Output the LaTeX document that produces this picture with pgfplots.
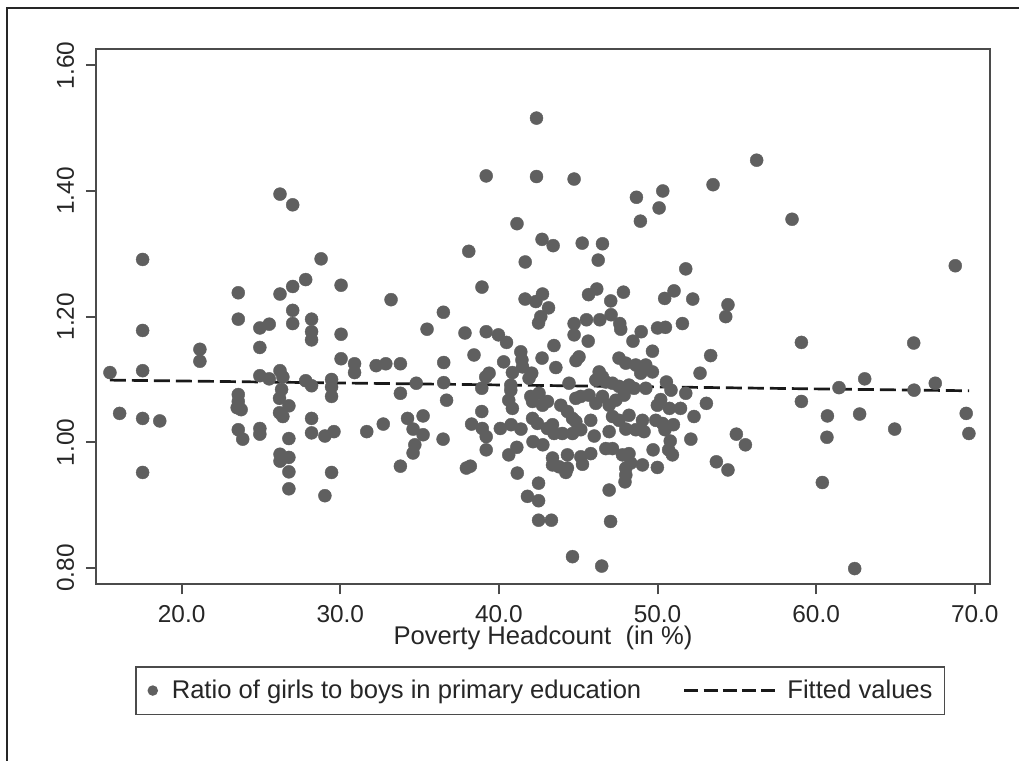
\documentclass[border=0pt]{standalone}
\usepackage{fontspec}
\setmainfont{Liberation Sans}
\usepackage{pgfplots}
\usepackage{pgfplotstable}
\pgfplotsset{compat=1.18}
\definecolor{dotgray}{RGB}{95,95,95}
\definecolor{axgray}{RGB}{75,75,75}

% poverty headcount (%) vs ratio of girls to boys
\pgfplotstableread{
p v
15.48 1.111
16.09 1.046
17.54 1.291
17.54 1.178
17.54 1.114
17.54 1.038
17.54 0.952
18.62 1.034
21.15 1.148
21.15 1.129
23.57 1.238
23.57 1.196
23.57 1.076
23.57 1.065
23.50 1.055
23.75 1.052
23.57 1.020
23.85 1.005
24.93 1.182
25.52 1.188
24.93 1.151
24.93 1.106
25.52 1.101
24.93 1.022
24.93 1.013
26.20 1.395
27.00 1.378
26.20 1.236
27.00 1.248
27.82 1.259
28.79 1.292
30.05 1.250
27.00 1.210
27.00 1.189
28.19 1.196
28.19 1.176
28.19 1.163
30.05 1.172
30.05 1.133
26.20 1.114
26.38 1.104
26.30 1.084
26.17 1.070
26.76 1.058
26.17 1.047
26.38 1.041
26.76 1.006
26.20 0.981
26.20 0.970
26.76 0.976
26.76 0.953
26.76 0.926
27.82 1.098
28.19 1.090
28.19 1.038
28.19 1.015
29.03 1.010
29.03 0.915
29.45 1.100
29.45 1.088
29.45 1.073
29.60 1.017
29.45 0.952
30.90 1.125
30.90 1.111
32.26 1.122
32.87 1.125
33.20 1.227
31.67 1.017
32.71 1.029
33.79 1.125
33.79 1.078
33.79 0.962
34.79 1.094
34.24 1.038
35.22 1.042
34.59 1.021
35.22 1.012
34.70 0.996
34.59 0.983
35.47 1.180
36.50 1.207
36.52 1.127
36.52 1.095
36.70 1.067
36.48 1.005
37.86 1.174
37.95 0.959
38.20 0.962
38.10 1.304
38.43 1.139
38.93 1.247
39.20 1.424
39.20 1.176
39.97 1.171
40.48 1.159
38.92 1.086
38.92 1.049
38.28 1.029
38.95 1.022
39.20 1.009
39.20 0.988
39.38 1.110
39.17 1.104
40.30 1.128
41.38 1.144
41.45 1.131
40.85 1.111
41.49 1.120
42.07 1.110
41.90 1.102
42.72 1.134
43.59 1.119
43.47 1.154
44.86 1.130
45.05 1.136
45.63 1.161
40.75 1.091
40.75 1.083
40.62 1.067
40.85 1.054
40.09 1.022
40.77 1.028
41.39 1.021
40.62 0.980
41.13 0.992
41.16 0.951
42.01 1.073
42.12 1.065
42.53 1.078
42.75 1.059
43.06 1.065
42.12 1.038
42.43 1.030
42.15 1.001
42.77 0.996
43.06 1.022
43.38 1.028
43.48 1.014
43.90 1.059
44.00 1.014
44.32 1.049
44.64 1.038
44.42 1.094
44.85 1.070
45.16 1.073
44.85 1.033
44.64 1.014
45.16 1.020
43.38 0.975
43.38 0.964
43.80 0.961
44.32 0.980
44.32 0.959
44.22 0.952
45.16 0.977
45.27 0.965
45.79 0.982
42.50 0.935
41.80 0.914
42.50 0.907
42.50 0.876
43.31 0.876
44.64 0.818
46.48 0.803
46.95 0.924
47.04 0.874
46.01 1.010
45.79 1.035
45.68 1.075
46.32 1.112
46.53 1.104
46.11 1.099
46.74 1.096
47.16 1.094
47.57 1.089
46.53 1.073
46.11 1.062
46.95 1.059
47.37 1.067
47.89 1.075
48.00 1.086
48.20 1.091
47.16 1.041
47.57 1.035
48.20 1.043
48.00 1.021
48.63 1.020
46.95 1.017
46.74 0.990
47.16 0.990
47.79 0.980
48.20 0.982
48.31 0.967
48.00 0.959
48.00 0.948
47.95 0.937
49.05 0.964
49.99 0.960
47.57 1.134
48.00 1.126
48.63 1.123
49.26 1.123
48.94 1.110
49.68 1.112
49.68 1.145
48.45 1.161
49.26 1.086
48.52 1.086
49.05 1.035
49.15 1.017
49.89 1.035
50.31 1.030
49.99 1.059
50.20 1.068
50.56 1.096
50.85 1.083
50.75 1.054
51.45 1.054
50.47 1.020
51.00 1.028
50.80 1.002
50.70 0.988
50.94 0.980
49.72 0.988
51.78 1.078
52.10 1.005
52.30 1.041
52.68 1.110
42.37 1.516
42.37 1.423
44.74 1.419
48.67 1.390
50.33 1.400
50.10 1.373
48.92 1.352
41.14 1.348
42.72 1.323
43.42 1.313
45.25 1.317
46.53 1.316
46.26 1.290
41.66 1.287
51.78 1.276
41.65 1.228
42.33 1.224
42.75 1.236
43.13 1.214
42.64 1.200
42.50 1.190
44.74 1.189
44.74 1.171
45.52 1.195
45.65 1.235
46.17 1.244
47.05 1.225
46.36 1.195
47.07 1.203
47.62 1.189
47.68 1.180
47.85 1.239
48.97 1.176
50.45 1.229
51.04 1.241
50.00 1.182
50.50 1.183
51.57 1.189
52.22 1.228
56.25 1.449
53.50 1.410
58.48 1.355
68.77 1.281
54.44 1.219
54.30 1.200
59.07 1.159
66.15 1.158
53.35 1.138
63.06 1.101
67.51 1.094
61.44 1.087
66.17 1.083
53.08 1.062
53.71 0.969
54.44 0.956
54.97 1.013
55.54 0.996
59.07 1.065
60.71 1.042
60.68 1.008
60.39 0.936
62.74 1.045
64.95 1.021
62.43 0.799
69.46 1.046
69.63 1.014
}\ratios

\begin{document}
\begin{tikzpicture}
\useasboundingbox (0,0) rectangle (509.5pt,380.5pt);
\draw[line width=0.75pt, black!85] (3.5pt,0) -- (3.5pt,376.5pt) -- (509.5pt,376.5pt);
\begin{axis}[
  at={(48pt,88.35pt)}, anchor=south west,
  scale only axis, width=447pt, height=267.65pt,
  xmin=14.6, xmax=70.96, ymin=0.774, ymax=1.626,
  xtick={20,30,40,50,60,70}, ytick={0.8,1.0,1.2,1.4,1.6},
  xtick pos=bottom, ytick pos=left,
  tick align=outside, major tick length=5pt,
  axis line style={axgray, line width=1pt},
  every tick/.style={axgray, line width=1pt},
  tick label style={font=\fontsize{12.2}{14}\selectfont, text=black!85},
  /pgf/number format/assume math mode=true,
  x tick label style={/pgf/number format/fixed, /pgf/number format/fixed zerofill,
    /pgf/number format/precision=1, anchor=base},
  y tick label style={/pgf/number format/fixed, /pgf/number format/fixed zerofill,
    /pgf/number format/precision=2, rotate=90, anchor=base},
  xticklabel shift=14pt, yticklabel shift=6pt,
  xlabel={Poverty Headcount\ \ (in \%)},
  xlabel style={font=\fontsize{12.8}{15}\selectfont, text=black!85,
    at={(axis description cs:0.5,-0.1125)}, anchor=base},
  legend columns=2,
  legend style={at={(axis description cs:0.0436,-0.1526)}, anchor=north west,
    draw=axgray, line width=0.8pt, fill=white,
    font=\fontsize{12.8}{15}\selectfont, text=black!85,
    inner xsep=4pt, inner ysep=4.5pt,
    /tikz/every even column/.append style={column sep=19pt}},
  legend cell align=left,
]
\addplot[only marks, mark=*, mark size=3.25pt,
  mark options={fill=dotgray, draw=dotgray, line width=0.2pt},
  legend image code/.code={\path[draw=none, fill=none] (0pt,0pt) -- (12pt,0pt);
    \fill[dotgray] (4.5pt,0pt) circle (2.2pt);}]
  table[x=p, y=v] {\ratios};
\addlegendentry{Ratio of girls to boys in primary education}
\addplot[black!90, line width=1.35pt, dash pattern=on 8pt off 3pt,
  legend image code/.code={\draw[black!90, line width=1.1pt, dash pattern=on 7pt off 2.6pt]
    (0pt,0pt) -- (47.5pt,0pt); \path[draw=none, fill=none] (0pt,0pt) -- (49.5pt,0pt);}]
  coordinates {(15.48,1.099) (69.65,1.082)};
\addlegendentry{Fitted values}
\end{axis}
\end{tikzpicture}
\end{document}
